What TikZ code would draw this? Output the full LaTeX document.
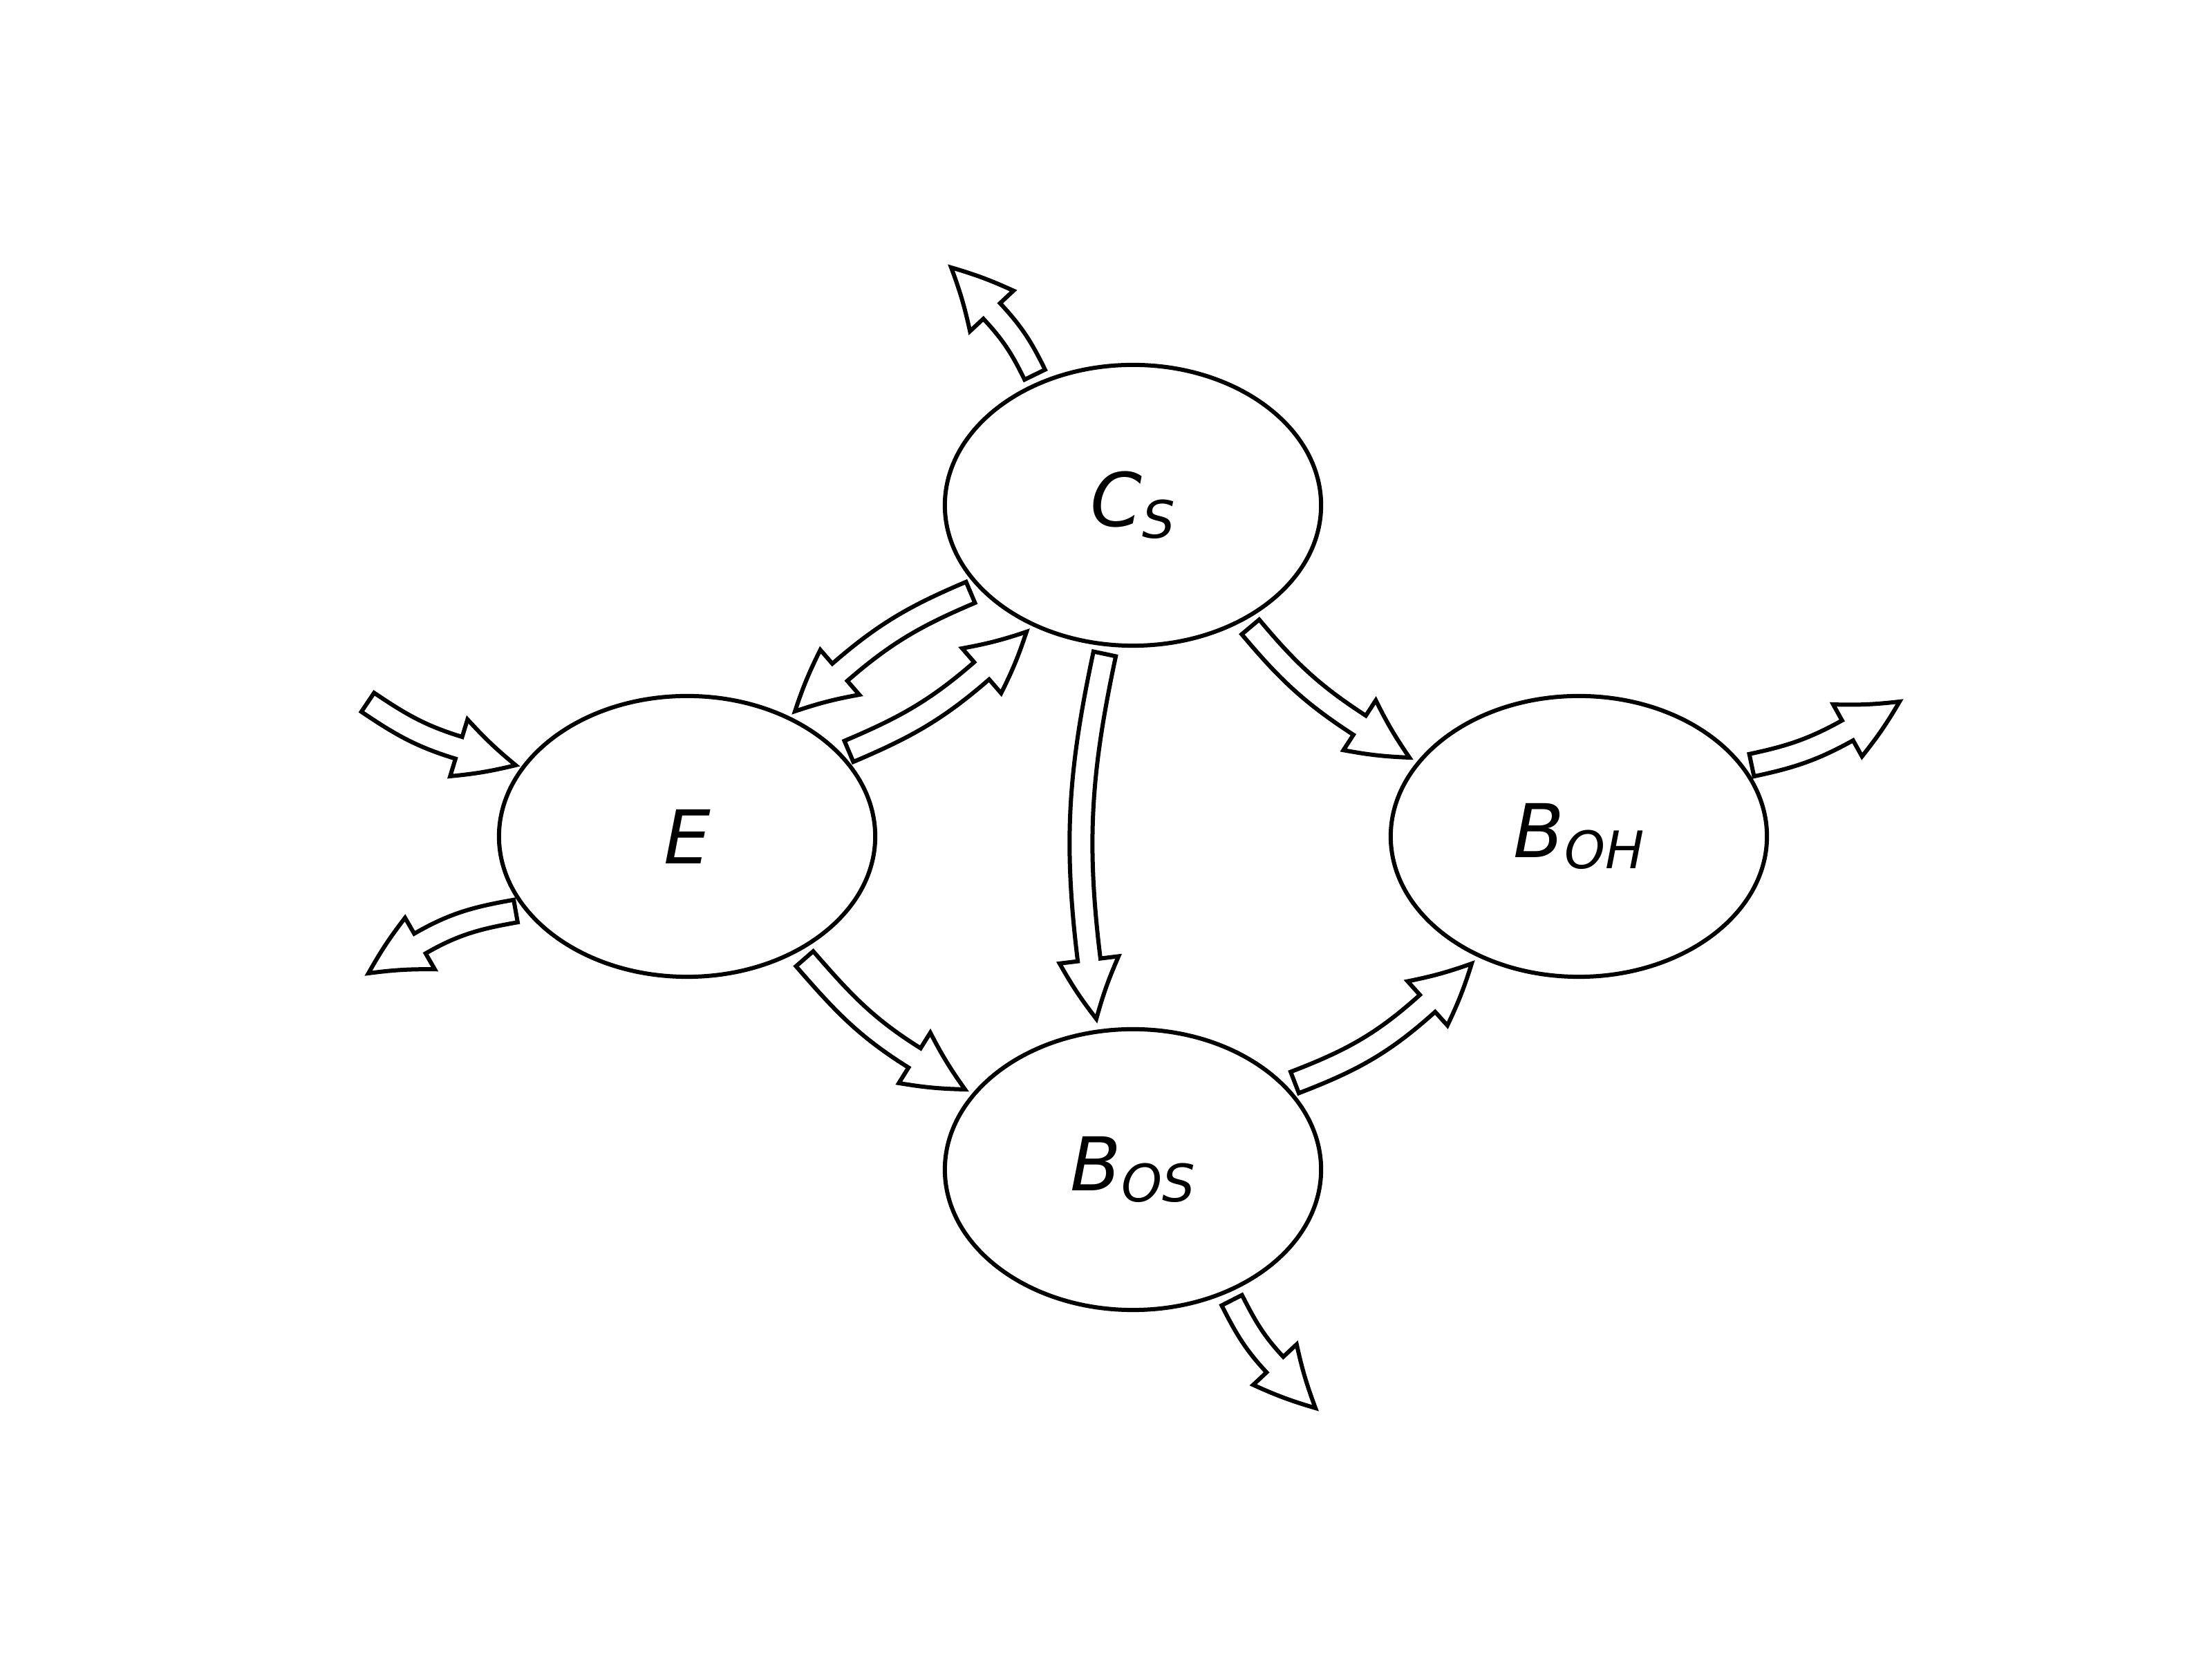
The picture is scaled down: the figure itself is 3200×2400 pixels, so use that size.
\documentclass[tikz,border=0pt]{standalone}
\usepackage{fontspec}
\setmainfont{DejaVu Sans}
\usetikzlibrary{shapes.geometric,calc}
\tikzset{
  statenode/.style={draw, ellipse, line width=0.06cm, minimum width=5.44cm,
    minimum height=4.06cm, inner sep=0pt,
    font=\fontsize{30.5}{36}\selectfont\itshape},
  arrowline/.style={draw, fill=white, line width=0.06cm, line join=miter},
}
\newcommand{\subl}[1]{\raisebox{-4.8pt}{\fontsize{21.3}{25}\selectfont #1}}
% #1 tail coordinate, #2 out angle at tail, #3 tip coordinate, #4 direction at tip
\newcommand{\fatarrow}[4]{%
  \pgfmathsetmacro\fabk{#4+180}%
  \pgfmathsetmacro\fal{#4+90}%
  \pgfmathsetmacro\far{#4-90}%
  \pgfmathsetmacro\fosl{#2+90}%
  \pgfmathsetmacro\fosr{#2-90}%
  \path (#3) ++(\fabk:86) coordinate (hb);
  \path (hb) ++(\fal:43) coordinate (bl);
  \path (hb) ++(\far:43) coordinate (br);
  \path (hb) ++(\fal:16.5) coordinate (pl);
  \path (hb) ++(\far:16.5) coordinate (pr);
  \path (#1) ++(\fosl:16.5) coordinate (tl);
  \path (#1) ++(\fosr:16.5) coordinate (tr);
  \path[arrowline] (tl) to[out=#2, in=\fabk] (pl) -- (bl) to[bend right=4] (#3)
     to[bend left=4] (br) -- (pr) to[out=\fabk, in=#2] (tr) -- cycle;
}
\begin{document}
\begin{tikzpicture}[x=0.01cm, y=0.01cm]
\useasboundingbox (0,0) rectangle (3200,2400);
\node[statenode] (cs) at (1639,1669) {C\subl{S}};
\node[statenode] (e) at (994,1190) {E};
\node[statenode] (boh) at (2284,1190) {B\subl{OH}};
\node[statenode] (bos) at (1639,708) {B\subl{OS}};

\coordinate (a1s) at (1497,1858); \coordinate (a1e) at (1376,2013);
\coordinate (a2s) at (1404,1543); \coordinate (a2e) at (1150,1371);
\coordinate (a3s) at (1228,1313); \coordinate (a3e) at (1485,1486);
\coordinate (a4s) at (1598,1454); \coordinate (a4e) at (1586,926);
\coordinate (a5s) at (1809,1493); \coordinate (a5e) at (2039,1304);
\coordinate (a6s) at (532,1384);  \coordinate (a6e) at (746,1293);
\coordinate (a7s) at (746,1082);  \coordinate (a7e) at (533,992);
\coordinate (a8s) at (1164,1013); \coordinate (a8e) at (1396,824);
\coordinate (a9s) at (1873,834);  \coordinate (a9e) at (2129,1006);
\coordinate (a10s) at (2534,1293); \coordinate (a10e) at (2748,1385);
\coordinate (a11s) at (1782,519); \coordinate (a11e) at (1903,363);

\fatarrow{a1s}{116}{a1e}{133}
\fatarrow{a2s}{203}{a2e}{221}
\fatarrow{a3s}{23}{a3e}{41}
\fatarrow{a4s}{258}{a4e}{277}
\fatarrow{a5s}{310}{a5e}{327}
\fatarrow{a6s}{326}{a6e}{343}
\fatarrow{a7s}{190}{a7e}{210}
\fatarrow{a8s}{311}{a8e}{328}
\fatarrow{a9s}{21}{a9e}{42}
\fatarrow{a10s}{12}{a10e}{29}
\fatarrow{a11s}{297}{a11e}{313}
\end{tikzpicture}
\end{document}
